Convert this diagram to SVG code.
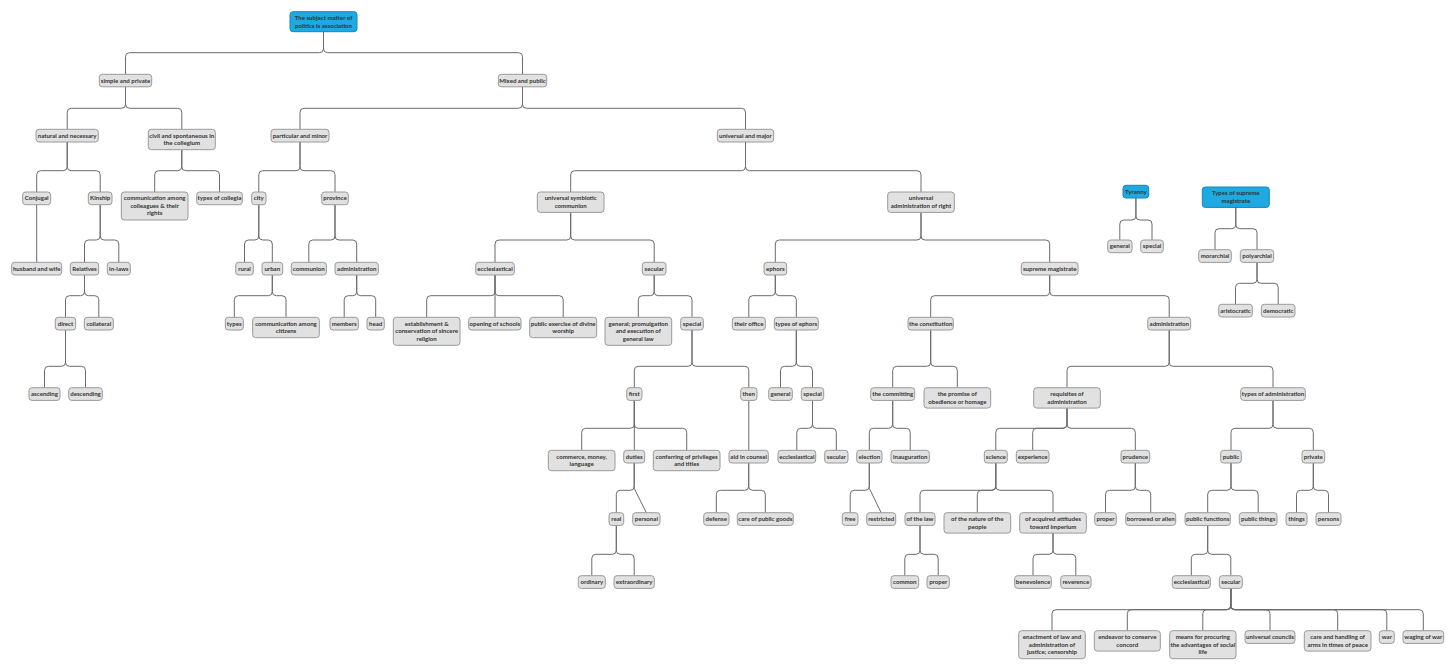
<svg xmlns="http://www.w3.org/2000/svg" width="1456" height="671" viewBox="0 0 1456 671">
<style>
.n rect{fill:#e1e1e1;stroke:#9a9a9a;stroke-width:1}
.b rect{fill:#1fa9e1;stroke:#1786b8;stroke-width:1}
text{font-family:Lato,"Noto Sans",sans-serif;font-size:6.1px;font-weight:700;fill:#333333;text-anchor:middle}
.c path{fill:none;stroke:#6b6b6b;stroke-width:1}
</style>
<rect width="1456" height="671" fill="#ffffff"/>
<g class="c" id="connectors">
<path d="M323.5 31.7 V48.7 Q323.5 52.7 319.5 52.7 H129.5 Q125.5 52.7 125.5 56.7 V74.3"/>
<path d="M323.5 31.7 V48.7 Q323.5 52.7 327.5 52.7 H518.5 Q522.5 52.7 522.5 56.7 V74.3"/>
<path d="M125.5 86.8 V104.3 Q125.5 108.3 121.5 108.3 H71.2 Q67.2 108.3 67.2 112.3 V129.3"/>
<path d="M125.5 86.8 V104.3 Q125.5 108.3 129.5 108.3 H177.8 Q181.8 108.3 181.8 112.3 V129.3"/>
<path d="M522.5 86.8 V104.3 Q522.5 108.3 518.5 108.3 H304 Q300 108.3 300 112.3 V129.3"/>
<path d="M522.5 86.8 V104.3 Q522.5 108.3 526.5 108.3 H741.5 Q745.5 108.3 745.5 112.3 V129.3"/>
<path d="M67.2 142 V166.7 Q67.2 170.7 63.2 170.7 H40.7 Q36.7 170.7 36.7 174.7 V192"/>
<path d="M67.2 142 V166.7 Q67.2 170.7 71.2 170.7 H96.2 Q100.2 170.7 100.2 174.7 V192"/>
<path d="M181.8 149.7 V166.7 Q181.8 170.7 177.8 170.7 H158.7 Q154.7 170.7 154.7 174.7 V192"/>
<path d="M181.8 149.7 V166.7 Q181.8 170.7 185.8 170.7 H215.5 Q219.5 170.7 219.5 174.7 V192"/>
<path d="M300 142 V166.7 Q300 170.7 296 170.7 H262.8 Q258.8 170.7 258.8 174.7 V192"/>
<path d="M300 142 V166.7 Q300 170.7 304 170.7 H331 Q335 170.7 335 174.7 V192"/>
<path d="M745.5 142 V166.7 Q745.5 170.7 741.5 170.7 H574.7 Q570.7 170.7 570.7 174.7 V192"/>
<path d="M745.5 142 V166.7 Q745.5 170.7 749.5 170.7 H917 Q921 170.7 921 174.7 V192"/>
<path d="M36.7 204.7 V262.3"/>
<path d="M100.2 204.7 V236 Q100.2 240 96.2 240 H88.5 Q84.5 240 84.5 244 V262.3"/>
<path d="M100.2 204.7 V236 Q100.2 240 104.2 240 H114.8 Q118.8 240 118.8 244 V262.3"/>
<path d="M258.8 204.7 V236 Q258.8 240 254.8 240 H248.5 Q244.5 240 244.5 244 V262.3"/>
<path d="M258.8 204.7 V236 Q258.8 240 262.8 240 H268.3 Q272.3 240 272.3 244 V262.3"/>
<path d="M335 204.7 V236 Q335 240 331 240 H312.8 Q308.8 240 308.8 244 V262.3"/>
<path d="M335 204.7 V236 Q335 240 339 240 H352.7 Q356.7 240 356.7 244 V262.3"/>
<path d="M570.7 212.4 V236 Q570.7 240 566.7 240 H499 Q495 240 495 244 V262.3"/>
<path d="M570.7 212.4 V236 Q570.7 240 574.7 240 H650.2 Q654.2 240 654.2 244 V262.3"/>
<path d="M921 212.4 V236 Q921 240 917 240 H779.3 Q775.3 240 775.3 244 V262.3"/>
<path d="M921 212.4 V236 Q921 240 925 240 H1045.7 Q1049.7 240 1049.7 244 V262.3"/>
<path d="M1135.9 198 V216 Q1135.9 220 1131.9 220 H1123.8 Q1119.8 220 1119.8 224 V240"/>
<path d="M1135.9 198 V216 Q1135.9 220 1139.9 220 H1148 Q1152 220 1152 224 V240"/>
<path d="M1235.8 207.4 V224.7 Q1235.8 228.7 1231.8 228.7 H1219 Q1215 228.7 1215 232.7 V249.7"/>
<path d="M1235.8 207.4 V224.7 Q1235.8 228.7 1239.8 228.7 H1253 Q1257 228.7 1257 232.7 V249.7"/>
<path d="M84.5 275 V291.7 Q84.5 295.7 80.5 295.7 H69.5 Q65.5 295.7 65.5 299.7 V317.3"/>
<path d="M84.5 275 V291.7 Q84.5 295.7 88.5 295.7 H94.8 Q98.8 295.7 98.8 299.7 V317.3"/>
<path d="M272.3 275 V291.7 Q272.3 295.7 268.3 295.7 H238.3 Q234.3 295.7 234.3 299.7 V317.3"/>
<path d="M272.3 275 V291.7 Q272.3 295.7 276.3 295.7 H282 Q286 295.7 286 299.7 V317.3"/>
<path d="M356.7 275 V291.7 Q356.7 295.7 352.7 295.7 H348.2 Q344.2 295.7 344.2 299.7 V317.3"/>
<path d="M356.7 275 V291.7 Q356.7 295.7 360.7 295.7 H371.7 Q375.7 295.7 375.7 299.7 V317.3"/>
<path d="M495 275 V291.7 Q495 295.7 491 295.7 H430.7 Q426.7 295.7 426.7 299.7 V317.3"/>
<path d="M495 275 V317.3"/>
<path d="M495 275 V291.7 Q495 295.7 499 295.7 H559.2 Q563.2 295.7 563.2 299.7 V317.3"/>
<path d="M654.2 275 V291.7 Q654.2 295.7 650.2 295.7 H642.3 Q638.3 295.7 638.3 299.7 V317.3"/>
<path d="M654.2 275 V291.7 Q654.2 295.7 658.2 295.7 H688 Q692 295.7 692 299.7 V317.3"/>
<path d="M775.3 275 V291.7 Q775.3 295.7 771.3 295.7 H752.8 Q748.8 295.7 748.8 299.7 V317.3"/>
<path d="M775.3 275 V291.7 Q775.3 295.7 779.3 295.7 H792.3 Q796.3 295.7 796.3 299.7 V317.3"/>
<path d="M1049.7 275 V291.7 Q1049.7 295.7 1045.7 295.7 H934.7 Q930.7 295.7 930.7 299.7 V317.3"/>
<path d="M1049.7 275 V291.7 Q1049.7 295.7 1053.7 295.7 H1165.2 Q1169.2 295.7 1169.2 299.7 V317.3"/>
<path d="M1257 262.4 V279.3 Q1257 283.3 1253 283.3 H1239.5 Q1235.5 283.3 1235.5 287.3 V304.3"/>
<path d="M1257 262.4 V279.3 Q1257 283.3 1261 283.3 H1274.2 Q1278.2 283.3 1278.2 287.3 V304.3"/>
<path d="M65.5 330 V362.3 Q65.5 366.3 61.5 366.3 H48.5 Q44.5 366.3 44.5 370.3 V387.7"/>
<path d="M65.5 330 V362.3 Q65.5 366.3 69.5 366.3 H81.5 Q85.5 366.3 85.5 370.3 V387.7"/>
<path d="M692 330 V362.3 Q692 366.3 688 366.3 H638.3 Q634.3 366.3 634.3 370.3 V387.7"/>
<path d="M692 330 V362.3 Q692 366.3 696 366.3 H744.8 Q748.8 366.3 748.8 370.3 V387.7"/>
<path d="M796.3 330 V362.3 Q796.3 366.3 792.3 366.3 H784.5 Q780.5 366.3 780.5 370.3 V387.7"/>
<path d="M796.3 330 V362.3 Q796.3 366.3 800.3 366.3 H808.5 Q812.5 366.3 812.5 370.3 V387.7"/>
<path d="M930.7 330 V362.3 Q930.7 366.3 926.7 366.3 H896.7 Q892.7 366.3 892.7 370.3 V387.7"/>
<path d="M930.7 330 V362.3 Q930.7 366.3 934.7 366.3 H953.3 Q957.3 366.3 957.3 370.3 V387.7"/>
<path d="M1169.2 330 V362.3 Q1169.2 366.3 1165.2 366.3 H1071 Q1067 366.3 1067 370.3 V387.7"/>
<path d="M1169.2 330 V362.3 Q1169.2 366.3 1173.2 366.3 H1269 Q1273 366.3 1273 370.3 V387.7"/>
<path d="M634.3 400.4 V424.3 Q634.3 428.3 630.3 428.3 H585.7 Q581.7 428.3 581.7 432.3 V450.3"/>
<path d="M634.3 400.4 V450.3"/>
<path d="M634.3 400.4 V424.3 Q634.3 428.3 638.3 428.3 H682.7 Q686.7 428.3 686.7 432.3 V450.3"/>
<path d="M748.8 400.4 V450.3"/>
<path d="M812.5 400.4 V424.3 Q812.5 428.3 808.5 428.3 H800.8 Q796.8 428.3 796.8 432.3 V450.3"/>
<path d="M812.5 400.4 V424.3 Q812.5 428.3 816.5 428.3 H832.3 Q836.3 428.3 836.3 432.3 V450.3"/>
<path d="M892.7 400.4 V424.3 Q892.7 428.3 888.7 428.3 H873.3 Q869.3 428.3 869.3 432.3 V450.3"/>
<path d="M892.7 400.4 V424.3 Q892.7 428.3 896.7 428.3 H906.2 Q910.2 428.3 910.2 432.3 V450.3"/>
<path d="M1067 408.1 V424.3 Q1067 428.3 1063 428.3 H999.8 Q995.8 428.3 995.8 432.3 V450.3"/>
<path d="M1067 408.1 V424.3 Q1067 428.3 1063 428.3 H1036.7 Q1032.7 428.3 1032.7 432.3 V450.3"/>
<path d="M1067 408.1 V424.3 Q1067 428.3 1071 428.3 H1131.3 Q1135.3 428.3 1135.3 432.3 V450.3"/>
<path d="M1273 400.4 V424.3 Q1273 428.3 1269 428.3 H1235 Q1231 428.3 1231 432.3 V450.3"/>
<path d="M1273 400.4 V424.3 Q1273 428.3 1277 428.3 H1309.3 Q1313.3 428.3 1313.3 432.3 V450.3"/>
<path d="M634.2 463 V486.3 Q634.2 490.3 630.2 490.3 H620.3 Q616.3 490.3 616.3 494.3 V512.7"/>
<path d="M634.2 463 V488.3 L646.3 512.7"/>
<path d="M748.7 463 V486.3 Q748.7 490.3 744.7 490.3 H720.3 Q716.3 490.3 716.3 494.3 V512.7"/>
<path d="M748.7 463 V486.3 Q748.7 490.3 752.7 490.3 H761.3 Q765.3 490.3 765.3 494.3 V512.7"/>
<path d="M869.3 463 V486.3 Q869.3 490.3 865.3 490.3 H854.2 Q850.2 490.3 850.2 494.3 V512.7"/>
<path d="M869.3 463 V488.3 L881.2 512.7"/>
<path d="M995.8 463 V486.3 Q995.8 490.3 991.8 490.3 H924 Q920 490.3 920 494.3 V512.7"/>
<path d="M995.8 463 V486.3 Q995.8 490.3 991.8 490.3 H981.3 Q977.3 490.3 977.3 494.3 V512.7"/>
<path d="M995.8 463 V486.3 Q995.8 490.3 999.8 490.3 H1049 Q1053 490.3 1053 494.3 V512.7"/>
<path d="M1135.3 463 V486.3 Q1135.3 490.3 1131.3 490.3 H1109.5 Q1105.5 490.3 1105.5 494.3 V512.7"/>
<path d="M1135.3 463 V486.3 Q1135.3 490.3 1139.3 490.3 H1146.7 Q1150.7 490.3 1150.7 494.3 V512.7"/>
<path d="M1231 463 V486.3 Q1231 490.3 1227 490.3 H1211.7 Q1207.7 490.3 1207.7 494.3 V512.7"/>
<path d="M1231 463 V486.3 Q1231 490.3 1235 490.3 H1254.2 Q1258.2 490.3 1258.2 494.3 V512.7"/>
<path d="M1313.3 463 V486.3 Q1313.3 490.3 1309.3 490.3 H1300.5 Q1296.5 490.3 1296.5 494.3 V512.7"/>
<path d="M1313.3 463 V486.3 Q1313.3 490.3 1317.3 490.3 H1324.5 Q1328.5 490.3 1328.5 494.3 V512.7"/>
<path d="M616.3 525.4 V550.3 Q616.3 554.3 612.3 554.3 H595.8 Q591.8 554.3 591.8 558.3 V575.7"/>
<path d="M616.3 525.4 V550.3 Q616.3 554.3 620.3 554.3 H630.2 Q634.2 554.3 634.2 558.3 V575.7"/>
<path d="M920 525.4 V550.3 Q920 554.3 916 554.3 H908.8 Q904.8 554.3 904.8 558.3 V575.7"/>
<path d="M920 525.4 V550.3 Q920 554.3 924 554.3 H934.2 Q938.2 554.3 938.2 558.3 V575.7"/>
<path d="M1053 533.1 V550.3 Q1053 554.3 1049 554.3 H1037 Q1033 554.3 1033 558.3 V575.7"/>
<path d="M1053 533.1 V550.3 Q1053 554.3 1057 554.3 H1071.8 Q1075.8 554.3 1075.8 558.3 V575.7"/>
<path d="M1207.7 525.4 V550.3 Q1207.7 554.3 1203.7 554.3 H1195.3 Q1191.3 554.3 1191.3 558.3 V575.7"/>
<path d="M1207.7 525.4 V550.3 Q1207.7 554.3 1211.7 554.3 H1226.8 Q1230.8 554.3 1230.8 558.3 V575.7"/>
<path d="M1230.8 588.4 V605.7 Q1230.8 609.7 1226.8 609.7 H1056 Q1052 609.7 1052 613.7 V630.7"/>
<path d="M1230.8 588.4 V605.7 Q1230.8 609.7 1226.8 609.7 H1131.3 Q1127.3 609.7 1127.3 613.7 V630.7"/>
<path d="M1230.8 588.4 V605.7 Q1230.8 609.7 1226.8 609.7 H1206.8 Q1202.8 609.7 1202.8 613.7 V630.7"/>
<path d="M1230.8 588.4 V605.7 Q1230.8 609.7 1234.8 609.7 H1266 Q1270 609.7 1270 613.7 V630.7"/>
<path d="M1230.8 588.4 V605.7 Q1230.8 609.7 1234.8 609.7 H1333.7 Q1337.7 609.7 1337.7 613.7 V630.7"/>
<path d="M1230.8 588.4 V605.7 Q1230.8 609.7 1234.8 609.7 H1382.8 Q1386.8 609.7 1386.8 613.7 V630.7"/>
<path d="M1230.8 588.4 V605.7 Q1230.8 609.7 1234.8 609.7 H1419.3 Q1423.3 609.7 1423.3 613.7 V630.7"/>
</g>
<g id="n0" class="b"><rect x="290" y="11.7" width="67" height="20" rx="3"/><text x="323.5" y="20.1">The subject matter of<tspan x="323.5" dy="7.5">politics is association</tspan></text></g>
<g id="n1" class="n"><rect x="99.3" y="74.3" width="52.4" height="12.5" rx="3"/><text x="125.5" y="82.7">simple and private</text></g>
<g id="n2" class="n"><rect x="498.3" y="74.3" width="48.4" height="12.5" rx="3"/><text x="522.5" y="82.7">Mixed and public</text></g>
<g id="n3" class="n"><rect x="36" y="129.3" width="62.3" height="12.7" rx="3"/><text x="67.2" y="137.7">natural and necessary</text></g>
<g id="n4" class="n"><rect x="148.3" y="129.3" width="67" height="20.4" rx="3"/><text x="181.8" y="137.7">civil and spontaneous in<tspan x="181.8" dy="7.5">the collegium</tspan></text></g>
<g id="n5" class="n"><rect x="271" y="129.3" width="58" height="12.7" rx="3"/><text x="300" y="137.7">particular and minor</text></g>
<g id="n6" class="n"><rect x="717.3" y="129.3" width="56.4" height="12.7" rx="3"/><text x="745.5" y="137.7">universal and major</text></g>
<g id="n7" class="n"><rect x="22.7" y="192" width="28" height="12.7" rx="3"/><text x="36.7" y="200.4">Conjugal</text></g>
<g id="n8" class="n"><rect x="88.3" y="192" width="23.7" height="12.7" rx="3"/><text x="100.2" y="200.4">Kinship</text></g>
<g id="n9" class="n"><rect x="121.3" y="192" width="66.7" height="28" rx="3"/><text x="154.7" y="200.4">communication among<tspan x="154.7" dy="7.5">colleagues &amp; their</tspan><tspan x="154.7" dy="7.5">rights</tspan></text></g>
<g id="n10" class="n"><rect x="196.7" y="192" width="45.6" height="12.7" rx="3"/><text x="219.5" y="200.4">types of collegia</text></g>
<g id="n11" class="n"><rect x="251.7" y="192" width="14.3" height="12.7" rx="3"/><text x="258.8" y="200.4">city</text></g>
<g id="n12" class="n"><rect x="321.7" y="192" width="26.6" height="12.7" rx="3"/><text x="335" y="200.4">province</text></g>
<g id="n13" class="n"><rect x="537.3" y="192" width="66.7" height="20.4" rx="3"/><text x="570.7" y="200.4">universal symbiotic<tspan x="570.7" dy="7.5">communion</tspan></text></g>
<g id="n14" class="n"><rect x="887.7" y="192" width="66.6" height="20.4" rx="3"/><text x="921" y="200.4">universal<tspan x="921" dy="7.5">administration of right</tspan></text></g>
<g id="n15" class="b"><rect x="1123" y="185.3" width="25.7" height="12.7" rx="3"/><text x="1135.9" y="193.7">Tyranny</text></g>
<g id="n16" class="b"><rect x="1202.3" y="187" width="67" height="20.4" rx="3"/><text x="1235.8" y="195.4">Types of supreme<tspan x="1235.8" dy="7.5">magistrate</tspan></text></g>
<g id="n17" class="n"><rect x="11.7" y="262.3" width="50" height="12.7" rx="3"/><text x="36.7" y="270.7">husband and wife</text></g>
<g id="n18" class="n"><rect x="70.3" y="262.3" width="28.4" height="12.7" rx="3"/><text x="84.5" y="270.7">Relatives</text></g>
<g id="n19" class="n"><rect x="107.3" y="262.3" width="23" height="12.7" rx="3"/><text x="118.8" y="270.7">in-laws</text></g>
<g id="n20" class="n"><rect x="235.7" y="262.3" width="17.6" height="12.7" rx="3"/><text x="244.5" y="270.7">rural</text></g>
<g id="n21" class="n"><rect x="262" y="262.3" width="20.7" height="12.7" rx="3"/><text x="272.3" y="270.7">urban</text></g>
<g id="n22" class="n"><rect x="291.3" y="262.3" width="35" height="12.7" rx="3"/><text x="308.8" y="270.7">communion</text></g>
<g id="n23" class="n"><rect x="335" y="262.3" width="43.3" height="12.7" rx="3"/><text x="356.7" y="270.7">administration</text></g>
<g id="n24" class="n"><rect x="475.7" y="262.3" width="38.6" height="12.7" rx="3"/><text x="495" y="270.7">ecclesiastical</text></g>
<g id="n25" class="n"><rect x="642.3" y="262.3" width="23.7" height="12.7" rx="3"/><text x="654.2" y="270.7">secular</text></g>
<g id="n26" class="n"><rect x="764" y="262.3" width="22.7" height="12.7" rx="3"/><text x="775.3" y="270.7">ephors</text></g>
<g id="n27" class="n"><rect x="1021.3" y="262.3" width="56.7" height="12.7" rx="3"/><text x="1049.7" y="270.7">supreme magistrate</text></g>
<g id="n28" class="n"><rect x="1107.7" y="240" width="24.3" height="12.7" rx="3"/><text x="1119.8" y="248.4">general</text></g>
<g id="n29" class="n"><rect x="1140.7" y="240" width="22.6" height="12.7" rx="3"/><text x="1152" y="248.4">special</text></g>
<g id="n30" class="n"><rect x="1198.7" y="249.7" width="32.6" height="12.7" rx="3"/><text x="1215" y="258.1">morarchial</text></g>
<g id="n31" class="n"><rect x="1240.3" y="249.7" width="33.4" height="12.7" rx="3"/><text x="1257" y="258.1">polyarchial</text></g>
<g id="n32" class="n"><rect x="55.3" y="317.3" width="20.4" height="12.7" rx="3"/><text x="65.5" y="325.7">direct</text></g>
<g id="n33" class="n"><rect x="84.3" y="317.3" width="29" height="12.7" rx="3"/><text x="98.8" y="325.7">collateral</text></g>
<g id="n34" class="n"><rect x="225.3" y="317.3" width="18" height="12.7" rx="3"/><text x="234.3" y="325.7">types</text></g>
<g id="n35" class="n"><rect x="252.7" y="317.3" width="66.6" height="20.4" rx="3"/><text x="286" y="325.7">communication among<tspan x="286" dy="7.5">citizens</tspan></text></g>
<g id="n36" class="n"><rect x="330" y="317.3" width="28.3" height="12.7" rx="3"/><text x="344.2" y="325.7">members</text></g>
<g id="n37" class="n"><rect x="367" y="317.3" width="17.3" height="12.7" rx="3"/><text x="375.7" y="325.7">head</text></g>
<g id="n38" class="n"><rect x="393.3" y="317.3" width="66.7" height="28" rx="3"/><text x="426.7" y="325.7">establishment &amp;<tspan x="426.7" dy="7.5">conservation of sincere</tspan><tspan x="426.7" dy="7.5">religion</tspan></text></g>
<g id="n39" class="n"><rect x="468.7" y="317.3" width="52.3" height="12.7" rx="3"/><text x="494.8" y="325.7">opening of schools</text></g>
<g id="n40" class="n"><rect x="529.7" y="317.3" width="67" height="20.4" rx="3"/><text x="563.2" y="325.7">public exercise of divine<tspan x="563.2" dy="7.5">worship</tspan></text></g>
<g id="n41" class="n"><rect x="605" y="317.3" width="66.7" height="28" rx="3"/><text x="638.3" y="325.7">general; promulgation<tspan x="638.3" dy="7.5">and execution of</tspan><tspan x="638.3" dy="7.5">general law</tspan></text></g>
<g id="n42" class="n"><rect x="680.7" y="317.3" width="22.6" height="12.7" rx="3"/><text x="692" y="325.7">special</text></g>
<g id="n43" class="n"><rect x="732.3" y="317.3" width="33" height="12.7" rx="3"/><text x="748.8" y="325.7">their office</text></g>
<g id="n44" class="n"><rect x="774.3" y="317.3" width="44" height="12.7" rx="3"/><text x="796.3" y="325.7">types of ephors</text></g>
<g id="n45" class="n"><rect x="908" y="317.3" width="45.3" height="12.7" rx="3"/><text x="930.7" y="325.7">the constitution</text></g>
<g id="n46" class="n"><rect x="1147.7" y="317.3" width="43" height="12.7" rx="3"/><text x="1169.2" y="325.7">administration</text></g>
<g id="n47" class="n"><rect x="1218.7" y="304.3" width="33.6" height="12.7" rx="3"/><text x="1235.5" y="312.7">aristocratic</text></g>
<g id="n48" class="n"><rect x="1261.3" y="304.3" width="33.7" height="12.7" rx="3"/><text x="1278.2" y="312.7">democratic</text></g>
<g id="n49" class="n"><rect x="29" y="387.7" width="31" height="12.7" rx="3"/><text x="44.5" y="396.1">ascending</text></g>
<g id="n50" class="n"><rect x="68.7" y="387.7" width="33.6" height="12.7" rx="3"/><text x="85.5" y="396.1">descending</text></g>
<g id="n51" class="n"><rect x="626.7" y="387.7" width="15.3" height="12.7" rx="3"/><text x="634.3" y="396.1">first</text></g>
<g id="n52" class="n"><rect x="740.7" y="387.7" width="16.3" height="12.7" rx="3"/><text x="748.8" y="396.1">then</text></g>
<g id="n53" class="n"><rect x="768.7" y="387.7" width="23.6" height="12.7" rx="3"/><text x="780.5" y="396.1">general</text></g>
<g id="n54" class="n"><rect x="801.3" y="387.7" width="22.4" height="12.7" rx="3"/><text x="812.5" y="396.1">special</text></g>
<g id="n55" class="n"><rect x="870.7" y="387.7" width="44" height="12.7" rx="3"/><text x="892.7" y="396.1">the committing</text></g>
<g id="n56" class="n"><rect x="924" y="387.7" width="66.7" height="20.4" rx="3"/><text x="957.3" y="396.1">the promise of<tspan x="957.3" dy="7.5">obedience or homage</tspan></text></g>
<g id="n57" class="n"><rect x="1033.7" y="387.7" width="66.6" height="20.4" rx="3"/><text x="1067" y="396.1">requisites of<tspan x="1067" dy="7.5">administration</tspan></text></g>
<g id="n58" class="n"><rect x="1240.7" y="387.7" width="64.6" height="12.7" rx="3"/><text x="1273" y="396.1">types of administration</text></g>
<g id="n59" class="n"><rect x="548.3" y="450.3" width="66.7" height="20.4" rx="3"/><text x="581.7" y="458.7">commerce, money,<tspan x="581.7" dy="7.5">language</tspan></text></g>
<g id="n60" class="n"><rect x="623.7" y="450.3" width="21" height="12.7" rx="3"/><text x="634.2" y="458.7">duties</text></g>
<g id="n61" class="n"><rect x="653.3" y="450.3" width="66.7" height="20.4" rx="3"/><text x="686.7" y="458.7">conferring of privileges<tspan x="686.7" dy="7.5">and titles</tspan></text></g>
<g id="n62" class="n"><rect x="729" y="450.3" width="39.3" height="12.7" rx="3"/><text x="748.7" y="458.7">aid in counsel</text></g>
<g id="n63" class="n"><rect x="778" y="450.3" width="37.7" height="12.7" rx="3"/><text x="796.8" y="458.7">ecclesiastical</text></g>
<g id="n64" class="n"><rect x="824.7" y="450.3" width="23.3" height="12.7" rx="3"/><text x="836.3" y="458.7">secular</text></g>
<g id="n65" class="n"><rect x="856.7" y="450.3" width="25.3" height="12.7" rx="3"/><text x="869.3" y="458.7">election</text></g>
<g id="n66" class="n"><rect x="891" y="450.3" width="38.3" height="12.7" rx="3"/><text x="910.2" y="458.7">inauguration</text></g>
<g id="n67" class="n"><rect x="984.3" y="450.3" width="23" height="12.7" rx="3"/><text x="995.8" y="458.7">science</text></g>
<g id="n68" class="n"><rect x="1016.3" y="450.3" width="32.7" height="12.7" rx="3"/><text x="1032.7" y="458.7">experience</text></g>
<g id="n69" class="n"><rect x="1121" y="450.3" width="28.7" height="12.7" rx="3"/><text x="1135.3" y="458.7">prudence</text></g>
<g id="n70" class="n"><rect x="1220.7" y="450.3" width="20.6" height="12.7" rx="3"/><text x="1231" y="458.7">public</text></g>
<g id="n71" class="n"><rect x="1302" y="450.3" width="22.7" height="12.7" rx="3"/><text x="1313.3" y="458.7">private</text></g>
<g id="n72" class="n"><rect x="609" y="512.7" width="14.7" height="12.7" rx="3"/><text x="616.3" y="521.1">real</text></g>
<g id="n73" class="n"><rect x="632.7" y="512.7" width="27.3" height="12.7" rx="3"/><text x="646.3" y="521.1">personal</text></g>
<g id="n74" class="n"><rect x="703.7" y="512.7" width="25.3" height="12.7" rx="3"/><text x="716.3" y="521.1">defense</text></g>
<g id="n75" class="n"><rect x="737.3" y="512.7" width="56" height="12.7" rx="3"/><text x="765.3" y="521.1">care of public goods</text></g>
<g id="n76" class="n"><rect x="842.3" y="512.7" width="15.7" height="12.7" rx="3"/><text x="850.2" y="521.1">free</text></g>
<g id="n77" class="n"><rect x="866.7" y="512.7" width="29" height="12.7" rx="3"/><text x="881.2" y="521.1">restricted</text></g>
<g id="n78" class="n"><rect x="905" y="512.7" width="30" height="12.7" rx="3"/><text x="920" y="521.1">of the law</text></g>
<g id="n79" class="n"><rect x="944" y="512.7" width="66.7" height="20.4" rx="3"/><text x="977.3" y="521.1">of the nature of the<tspan x="977.3" dy="7.5">people</tspan></text></g>
<g id="n80" class="n"><rect x="1019.7" y="512.7" width="66.6" height="20.4" rx="3"/><text x="1053" y="521.1">of acquired attitudes<tspan x="1053" dy="7.5">toward imperium</tspan></text></g>
<g id="n81" class="n"><rect x="1094.7" y="512.7" width="21.6" height="12.7" rx="3"/><text x="1105.5" y="521.1">proper</text></g>
<g id="n82" class="n"><rect x="1125.7" y="512.7" width="50" height="12.7" rx="3"/><text x="1150.7" y="521.1">borrowed or alien</text></g>
<g id="n83" class="n"><rect x="1185" y="512.7" width="45.3" height="12.7" rx="3"/><text x="1207.7" y="521.1">public functions</text></g>
<g id="n84" class="n"><rect x="1239.3" y="512.7" width="37.7" height="12.7" rx="3"/><text x="1258.2" y="521.1">public things</text></g>
<g id="n85" class="n"><rect x="1286" y="512.7" width="21" height="12.7" rx="3"/><text x="1296.5" y="521.1">things</text></g>
<g id="n86" class="n"><rect x="1316" y="512.7" width="25" height="12.7" rx="3"/><text x="1328.5" y="521.1">persons</text></g>
<g id="n87" class="n"><rect x="578.3" y="575.7" width="27" height="12.7" rx="3"/><text x="591.8" y="584.1">ordinary</text></g>
<g id="n88" class="n"><rect x="614" y="575.7" width="40.3" height="12.7" rx="3"/><text x="634.2" y="584.1">extraordinary</text></g>
<g id="n89" class="n"><rect x="891" y="575.7" width="27.7" height="12.7" rx="3"/><text x="904.8" y="584.1">common</text></g>
<g id="n90" class="n"><rect x="927" y="575.7" width="22.3" height="12.7" rx="3"/><text x="938.2" y="584.1">proper</text></g>
<g id="n91" class="n"><rect x="1014.7" y="575.7" width="36.6" height="12.7" rx="3"/><text x="1033" y="584.1">benevolence</text></g>
<g id="n92" class="n"><rect x="1060.7" y="575.7" width="30.3" height="12.7" rx="3"/><text x="1075.8" y="584.1">reverence</text></g>
<g id="n93" class="n"><rect x="1172.3" y="575.7" width="38" height="12.7" rx="3"/><text x="1191.3" y="584.1">ecclesiastical</text></g>
<g id="n94" class="n"><rect x="1219.3" y="575.7" width="23" height="12.7" rx="3"/><text x="1230.8" y="584.1">secular</text></g>
<g id="n95" class="n"><rect x="1018.7" y="630.7" width="66.6" height="28" rx="3"/><text x="1052" y="639.1">enactment of law and<tspan x="1052" dy="7.5">administration of</tspan><tspan x="1052" dy="7.5">justice; censorship</tspan></text></g>
<g id="n96" class="n"><rect x="1094.3" y="630.7" width="66" height="20.4" rx="3"/><text x="1127.3" y="639.1">endeavor to conserve<tspan x="1127.3" dy="7.5">concord</tspan></text></g>
<g id="n97" class="n"><rect x="1169.7" y="630.7" width="66.3" height="28" rx="3"/><text x="1202.8" y="639.1">means for procuring<tspan x="1202.8" dy="7.5">the advantages of social</tspan><tspan x="1202.8" dy="7.5">life</tspan></text></g>
<g id="n98" class="n"><rect x="1245" y="630.7" width="50" height="12.7" rx="3"/><text x="1270" y="639.1">universal councils</text></g>
<g id="n99" class="n"><rect x="1304.3" y="630.7" width="66.7" height="20.4" rx="3"/><text x="1337.7" y="639.1">care and handling of<tspan x="1337.7" dy="7.5">arms in times of peace</tspan></text></g>
<g id="n100" class="n"><rect x="1379.3" y="630.7" width="15" height="12.7" rx="3"/><text x="1386.8" y="639.1">war</text></g>
<g id="n101" class="n"><rect x="1403" y="630.7" width="40.7" height="12.7" rx="3"/><text x="1423.3" y="639.1">waging of war</text></g>
</svg>
